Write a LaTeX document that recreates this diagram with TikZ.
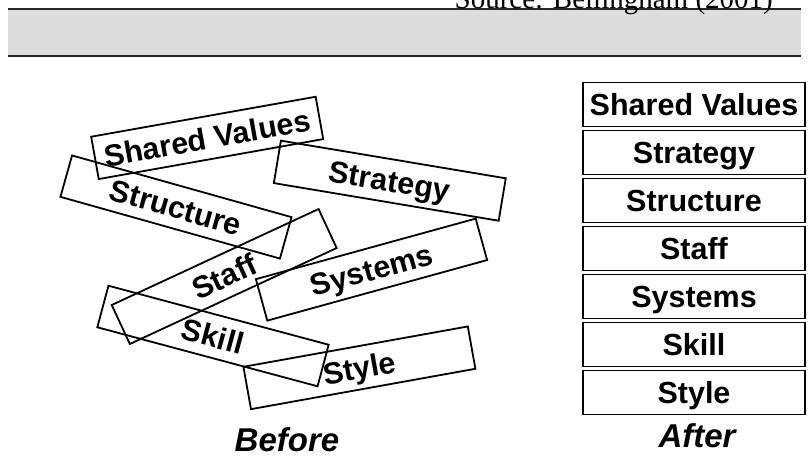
\documentclass[tikz,border=0pt]{standalone}
\usepackage{fontspec}
\setmainfont{Liberation Serif}
\setsansfont{Liberation Sans}
\usepackage{xcolor}
\usepackage{tikz}
\definecolor{band}{HTML}{DCDCDC}
\tikzset{
  rule/.style={line width=1.4pt, black!85},
  src/.style={font=\rmfamily\fontsize{29}{30}\selectfont, inner sep=0pt},
  elem/.style={draw, line width=1.8pt, inner sep=0pt, font=\sffamily\bfseries\fontsize{30.5}{32}\selectfont,
    text height=22pt, text depth=0pt},
  tag/.style={elem, minimum width=228pt, minimum height=43pt},
  slot/.style={elem, minimum width=222pt, minimum height=44pt},
  caption/.style={font=\sffamily\bfseries\itshape\fontsize{33}{36}\selectfont, inner sep=0pt},
}

\begin{document}
\begin{tikzpicture}[x=1pt,y=-1pt]
  \useasboundingbox (0,0) rectangle (809,459);
  % header band with the source line above it
  \fill[band] (8,9) rectangle (801,56);
  \draw[rule] (8,9) -- (801,9);
  \draw[rule, line width=2.4pt] (8,56) -- (801,56);
  \node[src, anchor=base east] (src) at (773,8) {Source: Bellingham (2001)};

  % before: the seven S's thrown together
  \node[tag, rotate=10.1]  (b-shared)    at (207.2,137.9) {Shared Values};
  \node[tag, rotate=-15.7] (b-structure) at (176.0,207.0) {Structure};
  \node[tag, rotate=-9.5]  (b-strategy)  at (389.8,180.7) {Strategy};
  \node[tag, rotate=24.9]  (b-staff)     at (224.2,276.5) {Staff};
  \node[tag, rotate=15.4]  (b-systems)   at (371.5,269.6) {Systems};
  \node[tag, rotate=-15.0] (b-skill)     at (213.0,336.0) {Skill};
  \node[tag, rotate=10.2]  (b-style)     at (359.4,367.8) {Style};
  \node[caption] (before) at (287,440) {Before};

  % after: the same S's stacked in order
  \foreach \name [count=\i from 0] in {Shared Values, Strategy, Structure, Staff, Systems, Skill, Style}
    \node[slot] (a-\i) at (694,104.5+48*\i) {\name};
  \node[caption] (after) at (697,436) {After};
\end{tikzpicture}
\end{document}
